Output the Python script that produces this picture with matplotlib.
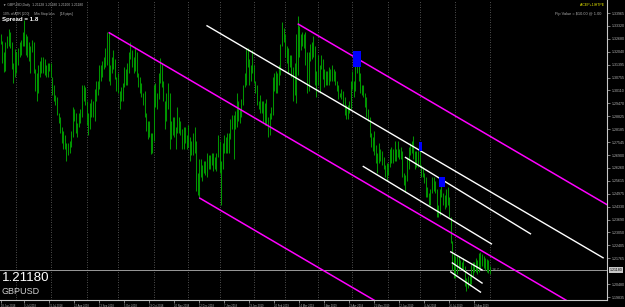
import numpy as np
import pandas as pd
import matplotlib
matplotlib.use("Agg")
import matplotlib.pyplot as plt
from matplotlib.patches import Rectangle
from matplotlib.transforms import blended_transform_factory

plt.rcParams['font.family'] = ['Liberation Sans', 'DejaVu Sans']

# ---- data -------------------------------------------------------------
first_day = "2018-06-18"
last_day = "2019-09-02"
no_bar_days = ["2018-12-25", "2019-01-01"]

# daily highs / lows, GBPUSD D1, one line per month
highs = [
    # Jun 2018
    1.3290, 1.3255, 1.3200, 1.3250, 1.3280, 1.3315, 1.3300, 1.3250, 1.3150, 1.3215,
    # Jul 2018
    1.3200, 1.3220, 1.3250, 1.3260, 1.3300, 1.3360, 1.3290, 1.3280, 1.3250, 1.3230, 1.3260,
    1.3250, 1.3120, 1.3100, 1.3140, 1.3160, 1.3180, 1.3180, 1.3170, 1.3140, 1.3150, 1.3150,
    # Aug 2018
    1.3150, 1.3080, 1.3040, 1.2990, 1.2980, 1.2900, 1.2880, 1.2830, 1.2810, 1.2790, 1.2750,
    1.2750, 1.2760, 1.2810, 1.2930, 1.2920, 1.2900, 1.2850, 1.2900, 1.2920, 1.3040, 1.3040, 1.3030,
    # Sep 2018
    1.2960, 1.2900, 1.2950, 1.2970, 1.2960, 1.3020, 1.3060, 1.3060, 1.3140, 1.3140,
    1.3160, 1.3180, 1.3220, 1.3300, 1.3300, 1.3140, 1.3180, 1.3210, 1.3170, 1.3080,
    # Oct 2018
    1.3100, 1.3010, 1.3030, 1.3050, 1.3130, 1.3120, 1.3150, 1.3200, 1.3250, 1.3210, 1.3180,
    1.3220, 1.3200, 1.3100, 1.3080, 1.3050, 1.3000, 1.3010, 1.2900, 1.2860, 1.2860, 1.2800, 1.2800,
    # Nov 2018
    1.3040, 1.3050, 1.3000, 1.3100, 1.3175, 1.3150, 1.3060, 1.2960, 1.3000, 1.3050, 1.3000,
    1.2860, 1.2880, 1.2880, 1.2830, 1.2930, 1.2880, 1.2860, 1.2820, 1.2830, 1.2830, 1.2790,
    # Dec 2018
    1.2840, 1.2780, 1.2760, 1.2800, 1.2830, 1.2760, 1.2600, 1.2670, 1.2670, 1.2640,
    1.2660, 1.2660, 1.2700, 1.2690, 1.2690, 1.2700, 1.2700, 1.2680, 1.2700, 1.2790,
    # Jan 2019
    1.2760, 1.2660, 1.2750, 1.2790, 1.2780, 1.2800, 1.2800, 1.2870, 1.2890, 1.2890, 1.2910,
    1.3000, 1.2960, 1.2920, 1.2970, 1.3040, 1.3100, 1.3220, 1.3220, 1.3170, 1.3140, 1.3210,
    # Feb 2019
    1.3140, 1.3060, 1.3040, 1.2960, 1.2990, 1.2960, 1.2960, 1.2950, 1.2970, 1.2880,
    1.2900, 1.2930, 1.3080, 1.3100, 1.3110, 1.3100, 1.3140, 1.3240, 1.3350, 1.3320,
    # Mar 2019
    1.3290, 1.3230, 1.3220, 1.3190, 1.3190, 1.3130, 1.3150, 1.3290, 1.3381, 1.3330, 1.3290,
    1.3300, 1.3290, 1.3300, 1.3200, 1.3200, 1.3240, 1.3250, 1.3280, 1.3230, 1.3110,
    # Apr 2019
    1.3190, 1.3140, 1.3190, 1.3170, 1.3120, 1.3110, 1.3110, 1.3130, 1.3120, 1.3140, 1.3120,
    1.3110, 1.3060, 1.3040, 1.3000, 1.3020, 1.3010, 1.2980, 1.2940, 1.2940, 1.2960, 1.3060,
    # May 2019
    1.3110, 1.3060, 1.3180, 1.3190, 1.3160, 1.3100, 1.3040, 1.3040, 1.3000, 1.2980, 1.2920, 1.2880,
    1.2800, 1.2780, 1.2810, 1.2740, 1.2700, 1.2750, 1.2720, 1.2710, 1.2680, 1.2640, 1.2650,
    # Jun 2019
    1.2650, 1.2720, 1.2730, 1.2720, 1.2760, 1.2720, 1.2760, 1.2720, 1.2730, 1.2710,
    1.2600, 1.2590, 1.2680, 1.2730, 1.2750, 1.2760, 1.2784, 1.2710, 1.2710, 1.2710,
    # Jul 2019
    1.2720, 1.2640, 1.2630, 1.2600, 1.2580, 1.2530, 1.2500, 1.2520, 1.2580, 1.2580, 1.2560, 1.2520,
    1.2440, 1.2520, 1.2550, 1.2500, 1.2490, 1.2520, 1.2530, 1.2480, 1.2380, 1.2260, 1.2200,
    # Aug 2019
    1.2190, 1.2190, 1.2190, 1.2170, 1.2160, 1.2180, 1.2140, 1.2080, 1.2090, 1.2090, 1.2150,
    1.2160, 1.2160, 1.2180, 1.2170, 1.2200, 1.2205, 1.2195, 1.2190, 1.2180, 1.2175, 1.2170,
    # Sep 2019
    1.2140,
]
lows = [
    # Jun 2018
    1.3240, 1.3150, 1.3102, 1.3110, 1.3220, 1.3230, 1.3220, 1.3120, 1.3050, 1.3080,
    # Jul 2018
    1.3100, 1.3140, 1.3180, 1.3190, 1.3230, 1.3230, 1.3190, 1.3180, 1.3160, 1.3100, 1.3200,
    1.3100, 1.3010, 1.2960, 1.3000, 1.3080, 1.3100, 1.3100, 1.3090, 1.3080, 1.3080, 1.3110,
    # Aug 2018
    1.3080, 1.2990, 1.2960, 1.2940, 1.2890, 1.2850, 1.2800, 1.2750, 1.2720, 1.2720, 1.2662,
    1.2690, 1.2700, 1.2730, 1.2780, 1.2860, 1.2800, 1.2780, 1.2830, 1.2850, 1.2880, 1.2960, 1.2940,
    # Sep 2018
    1.2840, 1.2790, 1.2820, 1.2880, 1.2880, 1.2860, 1.2960, 1.2990, 1.3020, 1.3060,
    1.3080, 1.3120, 1.3130, 1.3140, 1.3060, 1.3040, 1.3100, 1.3120, 1.3070, 1.3010,
    # Oct 2018
    1.3000, 1.2920, 1.2960, 1.2960, 1.3030, 1.3040, 1.3040, 1.3100, 1.3170, 1.3130, 1.3100,
    1.3110, 1.3080, 1.3030, 1.3000, 1.2980, 1.2940, 1.2880, 1.2810, 1.2770, 1.2780, 1.2696, 1.2700,
    # Nov 2018
    1.2760, 1.2930, 1.2920, 1.2970, 1.3050, 1.3030, 1.2960, 1.2820, 1.2860, 1.2920, 1.2720,
    1.2770, 1.2790, 1.2780, 1.2720, 1.2800, 1.2800, 1.2790, 1.2720, 1.2720, 1.2750, 1.2720,
    # Dec 2018
    1.2730, 1.2660, 1.2690, 1.2690, 1.2700, 1.2510, 1.2490, 1.2477, 1.2580, 1.2560,
    1.2600, 1.2590, 1.2580, 1.2620, 1.2620, 1.2640, 1.2610, 1.2620, 1.2610, 1.2680,
    # Jan 2019
    1.2600, 1.2439, 1.2620, 1.2700, 1.2700, 1.2700, 1.2700, 1.2770, 1.2820, 1.2670, 1.2820,
    1.2830, 1.2860, 1.2850, 1.2880, 1.2940, 1.3030, 1.3040, 1.3130, 1.3040, 1.3060, 1.3100,
    # Feb 2019
    1.3050, 1.3000, 1.2940, 1.2920, 1.2900, 1.2900, 1.2850, 1.2840, 1.2840, 1.2780,
    1.2790, 1.2870, 1.2890, 1.3010, 1.3000, 1.3000, 1.3040, 1.3090, 1.3230, 1.3250,
    # Mar 2019
    1.3180, 1.3150, 1.3100, 1.3130, 1.3080, 1.2960, 1.2990, 1.2950, 1.3090, 1.3180, 1.3210,
    1.3230, 1.3220, 1.3140, 1.3000, 1.3010, 1.3160, 1.3170, 1.3180, 1.3040, 1.2980,
    # Apr 2019
    1.3040, 1.3000, 1.3120, 1.3070, 1.3030, 1.3040, 1.3040, 1.3040, 1.3060, 1.3060, 1.3060,
    1.3040, 1.3010, 1.2970, 1.2980, 1.2970, 1.2940, 1.2890, 1.2870, 1.2870, 1.2900, 1.2920,
    # May 2019
    1.3020, 1.2980, 1.3010, 1.3100, 1.3060, 1.3000, 1.2990, 1.2980, 1.2930, 1.2880, 1.2860, 1.2780,
    1.2730, 1.2710, 1.2690, 1.2650, 1.2600, 1.2650, 1.2660, 1.2640, 1.2620, 1.2580, 1.2560,
    # Jun 2019
    1.2590, 1.2630, 1.2650, 1.2650, 1.2660, 1.2660, 1.2680, 1.2670, 1.2670, 1.2580,
    1.2540, 1.2506, 1.2560, 1.2620, 1.2690, 1.2700, 1.2670, 1.2620, 1.2630, 1.2630,
    # Jul 2019
    1.2630, 1.2580, 1.2580, 1.2550, 1.2480, 1.2480, 1.2440, 1.2440, 1.2500, 1.2510, 1.2500, 1.2380,
    1.2380, 1.2390, 1.2480, 1.2440, 1.2420, 1.2430, 1.2440, 1.2380, 1.2250, 1.2120, 1.2080,
    # Aug 2019
    1.2080, 1.2100, 1.2120, 1.2130, 1.2120, 1.2120, 1.2040, 1.2015, 1.2030, 1.2040, 1.2050,
    1.2090, 1.2110, 1.2110, 1.2100, 1.2110, 1.2130, 1.2140, 1.2130, 1.2120, 1.2110, 1.2105,
    # Sep 2019
    1.2100,
]
bid = 1.21180

# right price scale
price_ticks = [1.33965, 1.33320, 1.32680, 1.32040, 1.31395, 1.30755, 1.30110, 1.29470,
               1.28825, 1.28185, 1.27545, 1.26900, 1.26260, 1.25615, 1.24975, 1.24330,
               1.23690, 1.23050, 1.22405, 1.21765, 1.20480, 1.19835]
# time scale labels
date_labels = ["2018-06-18", "2018-07-09", "2018-07-31", "2018-08-22", "2018-09-13",
               "2018-10-05", "2018-10-29", "2018-11-20", "2018-12-12", "2019-01-07",
               "2019-01-29", "2019-02-20", "2019-03-14", "2019-04-05", "2019-04-29",
               "2019-05-21", "2019-06-12", "2019-07-04", "2019-07-26", "2019-08-19"]

# drawn objects: (date, price) anchor pairs
magenta_rays = [
    (("2018-09-21", 1.3300), ("2019-08-12", 1.2258)),
    (("2018-12-12", 1.2477), ("2019-05-31", 1.1931)),
    (("2019-03-13", 1.3343), ("2019-08-12", 1.2852)),
]
white_ray = (("2018-12-19", 1.3333), ("2019-08-12", 1.2577))
white_segments = [
    (("2019-06-18", 1.2678), ("2019-10-08", 1.2298)),
    (("2019-05-10", 1.2633), ("2019-09-03", 1.2248)),
    (("2019-07-29", 1.2208), ("2019-08-26", 1.2118)),
    (("2019-07-30", 1.2153), ("2019-08-26", 1.2053)),
    (("2019-07-29", 1.2108), ("2019-08-23", 1.2008)),
]
blue_boxes = [
    ("2019-05-02", "2019-05-08", 1.3128, 1.3208),
    ("2019-07-01", "2019-07-02", 1.2708, 1.2753),
    ("2019-07-18", "2019-07-23", 1.2533, 1.2583),
]

# ---- calendar: bar index per trading day (projected past the last bar) ----
cal = pd.bdate_range(first_day, "2020-01-31")
cal = cal[~cal.isin(pd.to_datetime(no_bar_days + ["2019-12-25", "2020-01-01"]))]
pos = {d.strftime("%Y-%m-%d"): i for i, d in enumerate(cal)}
n_bars = pos[last_day] + 1
assert len(highs) == n_bars and len(lows) == n_bars, (len(highs), len(lows), n_bars)
bars_x = np.arange(n_bars)

W, H = 625, 307
PX_PER_BAR = 1.5625
fig = plt.figure(figsize=(W / 100, H / 100), dpi=100, facecolor="black")
ax = fig.add_axes([0, 7 / H, 607 / W, 300 / H], facecolor="black")
x_max = 607 / PX_PER_BAR - 0.5
ax.set_xlim(-0.5, x_max)
ax.set_ylim(1.19686, 1.34612)

# month grid
for d in cal[:n_bars]:
    i = pos[d.strftime("%Y-%m-%d")]
    if i > 0 and cal[i - 1].month != d.month:
        ax.axvline(i, color="#6a6a6a", lw=0.6, ls=(0, (1, 2)), zorder=1)

# bid line
ax.axhline(bid, color="#9a9a9a", lw=0.7, zorder=2)

# bars
ax.vlines(bars_x, lows, highs, color="#009400", lw=0.75, zorder=3)


def ray_end(p1, p2, x_end):
    x1, x2 = pos[p1[0]], pos[p2[0]]
    slope = (p2[1] - p1[1]) / (x2 - x1)
    return [x1, x_end], [p1[1], p1[1] + slope * (x_end - x1)]


for a, b in magenta_rays:
    xs, ys = ray_end(a, b, x_max + 1)
    ax.plot(xs, ys, color="#ff00ff", lw=1.1, zorder=4, solid_capstyle="butt")

xs, ys = ray_end(white_ray[0], white_ray[1], x_max - 2.5)
ax.plot(xs, ys, color="white", lw=1.0, zorder=4)
for a, b in white_segments:
    ax.plot([pos[a[0]], pos[b[0]]], [a[1], b[1]], color="white", lw=1.0, zorder=4)

for d0, d1, lo, hi in blue_boxes:
    x0 = pos[d0] - 0.5
    ax.add_patch(Rectangle((x0, lo), pos[d1] + 0.5 - x0, hi - lo,
                           facecolor="#0000ff", edgecolor="none", zorder=5))

# axes frame
for s in ["left", "top"]:
    ax.spines[s].set_visible(False)
for s in ["right", "bottom"]:
    ax.spines[s].set_color("#c8c8c8")
    ax.spines[s].set_linewidth(0.8)

ax.yaxis.tick_right()
ax.set_yticks(price_ticks)
ax.set_yticklabels([f"{p:.5f}" for p in price_ticks])
ax.tick_params(axis="y", colors="#b4b4b4", labelsize=2.6, length=2, width=0.5, pad=1.5)

ax.set_xticks([pos[d] for d in date_labels])
ax.set_xticklabels([f"{pd.Timestamp(d).day} {pd.Timestamp(d):%b %Y}" for d in date_labels])
ax.tick_params(axis="x", colors="#b4b4b4", labelsize=1.9, length=2, width=0.5, pad=0.6)
for lbl in ax.get_xticklabels():
    lbl.set_horizontalalignment("left")

tr = blended_transform_factory(ax.transAxes, ax.transData)
ax.text(1.004, bid, f"{bid:.5f}", transform=tr, fontsize=2.6, color="black", va="center",
        ha="left", bbox=dict(boxstyle="square,pad=0.25", fc="#c8c8c8", ec="none"), zorder=6,
        clip_on=False)
ax.text(pos["2019-09-03"], bid, "-16.7 \u2191", fontsize=2.4, color="#a0a0a0", va="center",
        ha="left", zorder=6)


def ftxt(x, y, s, **kw):
    fig.text(x / W, 1 - y / H, s, va="center", **kw)


ftxt(3, 5, "\u25bc GBPUSD,Daily  1.21128 1.21180 1.21100 1.21180", color="#b0b0b0", fontsize=2.4)
ftxt(3, 14, "10% of ATR [200]     Min Stop loss     [18 pips]", color="#b0b0b0", fontsize=2.4)
ftxt(2, 20, "Spread = 1.8", color="white", fontsize=4.4, fontweight="bold")
ftxt(605, 5, "A:CEP+1IHTPE", color="#e6e600", fontsize=2.6, ha="right")
ftxt(601, 13.5, "Pip Value = $10.00 @ 1.00", color="#b0b0b0", fontsize=2.8, ha="right")
ftxt(2, 278, f"{bid:.5f}", color="white", fontsize=9.6)
ftxt(2, 292, "GBPUSD", color="#d0d0d0", fontsize=6.5)

fig.savefig("out.png", dpi=100, facecolor="black")
